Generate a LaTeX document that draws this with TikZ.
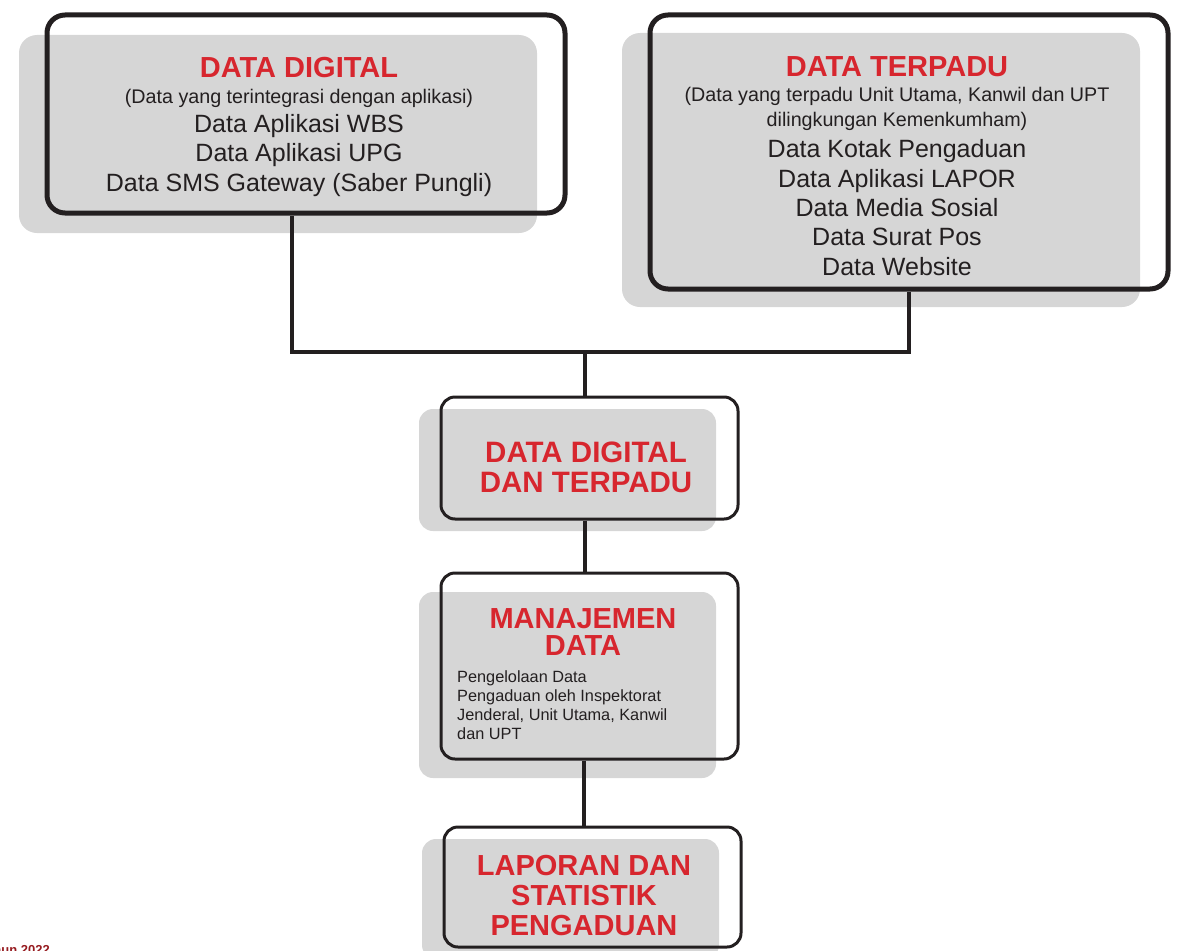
\documentclass[tikz,border=0pt]{standalone}
\usepackage{fontspec}
\setmainfont{Liberation Sans}
\usetikzlibrary{positioning,shadows}
\definecolor{merah}{HTML}{D7262E}
\definecolor{abu}{HTML}{D6D6D6}
\definecolor{hitam}{HTML}{231F20}
\tikzset{
  kotak/.style={draw=hitam, line width=#1, rounded corners=18pt, inner sep=0pt},
  bayang/.style 2 args={general shadow={fill=abu, shadow xshift=#1, shadow yshift=#2}},
  judul/.style={text=merah, font=\fontsize{29}{30}\selectfont\bfseries, align=center, inner sep=0pt},
  ket/.style={text=hitam, font=\fontsize{19.7}{25}\selectfont, align=center, inner sep=0pt},
  isi/.style={text=hitam, font=\fontsize{25}{29.3}\selectfont, align=center, inner sep=0pt},
  sambungan/.style={draw=hitam, line width=4pt}
}
\begin{document}
\begin{tikzpicture}[x=1pt, y=-1pt]
\useasboundingbox (0,0) rectangle (1185,950);
% kotak-kotak
\node[kotak=5pt, bayang={-28pt}{-20pt}, minimum width=518pt, minimum height=198pt] (digital) at (306,114) {};
\node[kotak=5pt, bayang={-28pt}{-18pt}, minimum width=518pt, minimum height=274pt] (terpadu) at (909,152) {};
\node[kotak=3pt, bayang={-22pt}{-12pt}, rounded corners=14pt, minimum width=297pt, minimum height=122pt] (gabung) at (589.5,458) {};
\node[kotak=3pt, bayang={-22pt}{-19pt}, rounded corners=14pt, minimum width=297pt, minimum height=186pt] (manajemen) at (589.5,666) {};
\node[kotak=3pt, bayang={-22pt}{-12pt}, rounded corners=14pt, minimum width=297pt, minimum height=120pt] (laporan) at (592.5,887) {};
% teks
\node[judul] (judulDigital) at (299,68) {DATA DIGITAL};
\node[ket] (ketDigital) at (299,98) {(Data yang terintegrasi dengan aplikasi)};
\node[isi] (isiDigital) at (299,155.5) {Data Aplikasi WBS\\Data Aplikasi UPG\\Data SMS Gateway (Saber Pungli)};
\node[judul] (judulTerpadu) at (897,67) {DATA TERPADU};
\node[ket] (ketTerpadu) at (897,108.5) {(Data yang terpadu Unit Utama, Kanwil dan UPT\\dilingkungan Kemenkumham)};
\node[isi] (isiTerpadu) at (897,207.5) {Data Kotak Pengaduan\\Data Aplikasi LAPOR\\Data Media Sosial\\Data Surat Pos\\Data Website};
\node[judul, font=\fontsize{29.5}{30}\selectfont\bfseries] (judulGabung) at (586,467) {DATA DIGITAL\\DAN TERPADU};
\node[judul, font=\fontsize{29}{27}\selectfont\bfseries] (judulManajemen) at (583,632.5) {MANAJEMEN\\DATA};
\node[text=hitam, font=\fontsize{16.3}{19}\selectfont, align=left, anchor=west, inner sep=0pt] (isiManajemen) at (457,705) {Pengelolaan Data\\Pengaduan oleh Inspektorat\\Jenderal, Unit Utama, Kanwil\\dan UPT};
\node[judul] (judulLaporan) at (584,896) {LAPORAN DAN\\STATISTIK\\PENGADUAN};
\node[text=merah!70!black, font=\fontsize{13}{14}\selectfont\bfseries, anchor=east, inner sep=0pt] (tahun) at (50,950) {Tahun 2022};
% garis
\coordinate (cabang) at (585,352);
\draw[sambungan] ([xshift=-14pt]digital.south) |- (cabang) -| (terpadu.south);
\draw[sambungan] (cabang) -- (cabang |- gabung.north);
\draw[sambungan] (gabung.south -| cabang) -- (manajemen.north -| cabang);
\draw[sambungan] ([xshift=-6pt]manajemen.south) -- ([xshift=-6pt]manajemen.south |- laporan.north);
\end{tikzpicture}
\end{document}
